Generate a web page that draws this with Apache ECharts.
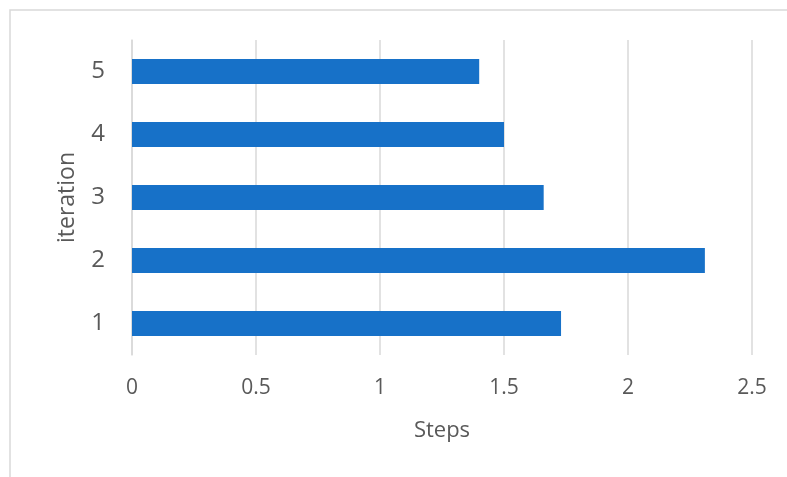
<!DOCTYPE html>
<html>
<head>
<meta charset="utf-8">
<script src="https://cdn.jsdelivr.net/npm/echarts@6/dist/echarts.min.js"></script>
<style>
  html, body { margin: 0; padding: 0; background: #fff; }
  #chart { width: 787px; height: 477px; }
</style>
</head>
<body>
<div id="chart"></div>
<script>
// Iteration categories (bottom to top) and their step counts
const iterations = ['1', '2', '3', '4', '5'];
const steps = [1.73, 2.31, 1.66, 1.5, 1.4];
const stepTicks = { min: 0, max: 2.5, interval: 0.5 };

const chart = echarts.init(document.getElementById('chart'), null, { renderer: 'canvas' });
const textColor = '#595959';
const fontFamily = '"Open Sans", "Noto Sans", sans-serif';

chart.setOption({
  animation: false,
  backgroundColor: '#ffffff',
  graphic: [{
    type: 'rect',
    shape: { x: 10, y: 10, width: 820, height: 520 },
    style: { fill: 'none', stroke: '#d9d9d9', lineWidth: 1.5 },
    silent: true
  }],
  grid: { left: 132, right: 35, top: 40, bottom: 122 },
  xAxis: {
    type: 'value',
    min: stepTicks.min,
    max: stepTicks.max,
    interval: stepTicks.interval,
    name: 'Steps',
    nameLocation: 'middle',
    nameGap: 65,
    nameTextStyle: { color: textColor, fontSize: 22, fontFamily: fontFamily },
    axisLine: { show: false },
    axisTick: { show: false },
    axisLabel: { color: textColor, fontSize: 21, fontFamily: fontFamily, margin: 23 },
    splitLine: { show: true, lineStyle: { color: '#d9d9d9', width: 1.5 } }
  },
  yAxis: {
    type: 'category',
    data: iterations,
    name: 'iteration',
    nameLocation: 'middle',
    nameGap: 53,
    nameTextStyle: { color: textColor, fontSize: 23, fontFamily: fontFamily },
    axisLine: { show: true, lineStyle: { color: '#d9d9d9', width: 1.5 } },
    axisTick: { show: false },
    axisLabel: { color: textColor, fontSize: 24, fontFamily: fontFamily, margin: 27 }
  },
  series: [{
    type: 'bar',
    data: steps,
    barWidth: '40%',
    itemStyle: { color: '#1771C8' },
    silent: true
  }]
});
</script>
</body>
</html>
